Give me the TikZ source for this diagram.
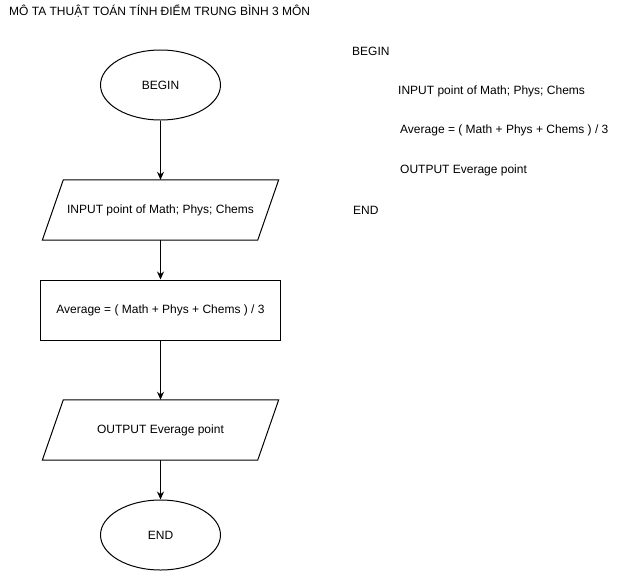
\documentclass[tikz,border=0pt]{standalone}
\usepackage{fontspec}
\setmainfont{Liberation Sans}
\usetikzlibrary{shapes.geometric,arrows.meta}
\begin{document}
\begin{tikzpicture}[x=1pt,y=-1pt,
  every node/.style={font=\fontsize{12}{14}\selectfont, inner sep=0pt},
  term/.style={draw, line width=1pt, ellipse, minimum width=120pt, minimum height=70pt},
  procbox/.style={draw, line width=1pt, rectangle, minimum width=240pt, minimum height=60pt},
  iobox/.style={rectangle, minimum width=215pt, minimum height=60pt},
  iodraw/.style={line width=1pt},
  arr/.style={line width=1pt, -{Stealth[length=8pt,width=7pt]}},
  plain/.style={anchor=west}]
\useasboundingbox (0,0) rectangle (621,571);
\node[anchor=west] (title) at (9,11) {MÔ TA THUẬT TOÁN TÍNH ĐIỂM TRUNG BÌNH 3 MÔN};

\node[term] (begin) at (160.5,85) {BEGIN};
\node[iobox] (in) at (160.5,210) {INPUT point of Math; Phys; Chems};
\draw[iodraw] ([xshift=10.5pt]in.north west) -- ([xshift=10.5pt]in.north east) -- ([xshift=-10.5pt]in.south east) -- ([xshift=-10.5pt]in.south west) -- cycle;
\node[procbox] (avg) at (160.5,310) {Average = ( Math + Phys + Chems ) / 3};
\node[iobox] (out) at (160.5,430) {OUTPUT Everage point};
\draw[iodraw] ([xshift=10.5pt]out.north west) -- ([xshift=10.5pt]out.north east) -- ([xshift=-10.5pt]out.south east) -- ([xshift=-10.5pt]out.south west) -- cycle;
\node[term] (end) at (160.5,535) {END};

\draw[arr] (begin.south) -- (in.north);
\draw[arr] (in.south) -- (avg.north);
\draw[arr] (avg.south) -- (out.north);
\draw[arr] (out.south) -- (end.north);

\node[plain] (p1) at (352,51) {BEGIN};
\node[plain] (p2) at (398,91) {INPUT point of Math; Phys; Chems};
\node[plain] (p3) at (400,130) {Average = ( Math + Phys + Chems ) / 3};
\node[plain] (p4) at (400,170) {OUTPUT Everage point};
\node[plain] (p5) at (353,210) {END};
\end{tikzpicture}
\end{document}
